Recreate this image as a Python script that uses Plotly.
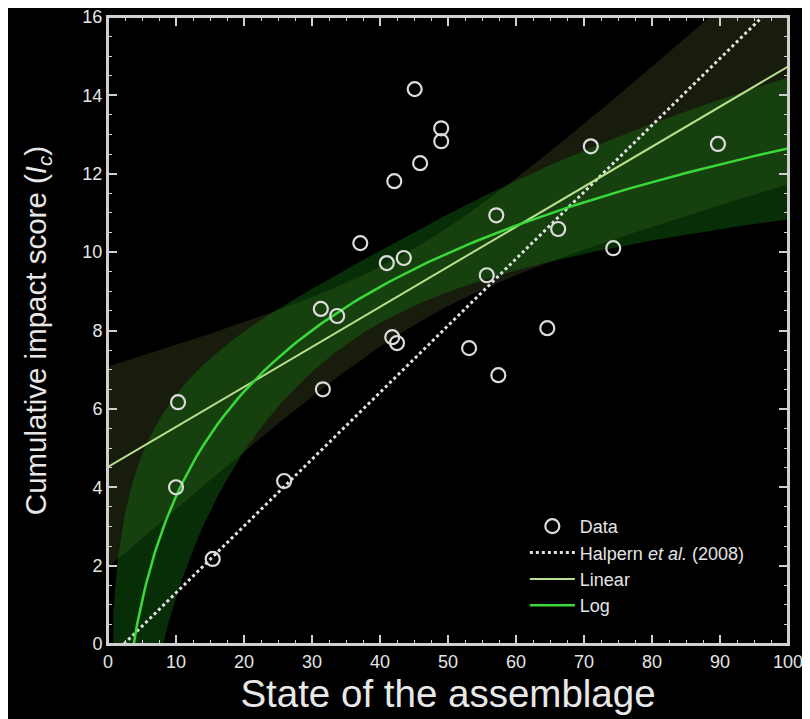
import numpy as np
import plotly.graph_objects as go

# Data
state = [10.3, 10.0, 15.4, 25.9, 31.3, 31.6, 33.7, 37.1, 41.0, 43.5, 41.8, 42.5, 42.1,
         45.1, 45.9, 49.0, 49.0, 53.1, 55.7, 57.1, 57.4, 64.6, 66.2, 71.0, 74.3, 89.7]
impact = [6.17, 4.00, 2.17, 4.16, 8.55, 6.50, 8.37, 10.23, 9.72, 9.85, 7.83, 7.68, 11.81,
          14.16, 12.27, 13.16, 12.83, 7.55, 9.41, 10.94, 6.86, 8.06, 10.59, 12.70, 10.10, 12.76]

# Halpern et al. (2008) reference line (end points)
halpern_x = [2.35, 96.2]
halpern_y = [0.0, 16.0]

x_ticks = [0, 10, 20, 30, 40, 50, 60, 70, 80, 90, 100]
y_ticks = [0, 2, 4, 6, 8, 10, 12, 14, 16]

# Regression fits (linear and log) with 95% confidence bands of the mean
xd = np.array(state)
yd = np.array(impact)
n = len(xd)
t95 = 2.064


def fit_band(u, ug):
    b, a = np.polyfit(u, yd, 1)
    res = yd - (a + b * u)
    s = np.sqrt(np.sum(res ** 2) / (n - 2))
    sxx = np.sum((u - u.mean()) ** 2)
    yh = a + b * ug
    se = s * np.sqrt(1.0 / n + (ug - u.mean()) ** 2 / sxx)
    return yh, yh - t95 * se, yh + t95 * se


grid_lin = np.linspace(0, 100, 101)
lin_fit, lin_lo, lin_hi = fit_band(xd, grid_lin)
grid_log = np.concatenate([np.linspace(0.8, 10, 47), np.linspace(11, 100, 90)])
log_fit, log_lo, log_hi = fit_band(np.log(xd), np.log(grid_log))

FONT = "Liberation Sans, Arial, sans-serif"

fig = go.Figure()

# linear band
fig.add_trace(go.Scatter(x=grid_lin, y=lin_lo, mode="lines", line=dict(width=0),
                         showlegend=False, hoverinfo="skip"))
fig.add_trace(go.Scatter(x=grid_lin, y=lin_hi, mode="lines", line=dict(width=0),
                         fill="tonexty", fillcolor="rgba(115,140,60,0.20)",
                         showlegend=False, hoverinfo="skip"))
# log band
fig.add_trace(go.Scatter(x=grid_log, y=log_lo, mode="lines", line=dict(width=0),
                         showlegend=False, hoverinfo="skip"))
fig.add_trace(go.Scatter(x=grid_log, y=log_hi, mode="lines", line=dict(width=0),
                         fill="tonexty", fillcolor="rgba(25,140,20,0.33)",
                         showlegend=False, hoverinfo="skip"))

fig.add_trace(go.Scatter(x=halpern_x, y=halpern_y, mode="lines",
                         name="Halpern <i>et al.</i> (2008)",
                         line=dict(color="#e2e2e2", width=3, dash="3px,3px"),
                         legendrank=2, legendgroup="b"))
fig.add_trace(go.Scatter(x=grid_lin, y=lin_fit, mode="lines", name="Linear",
                         line=dict(color="#b9df8c", width=2),
                         legendrank=3, legendgroup="c"))
fig.add_trace(go.Scatter(x=grid_log, y=log_fit, mode="lines", name="Log",
                         line=dict(color="#3ad93a", width=2.5),
                         legendrank=4, legendgroup="d"))
fig.add_trace(go.Scatter(x=state, y=impact, mode="markers", name="Data",
                         marker=dict(symbol="circle-open", size=14,
                                     color="#dcdcdc", line=dict(width=2.2, color="#dcdcdc")),
                         legendrank=1, legendgroup="a"))

axis_common = dict(
    showgrid=False, zeroline=False, showline=True, linecolor="#cfcfcf", linewidth=2,
    mirror="allticks", ticks="inside", ticklen=9, tickwidth=1.5, tickcolor="#cfcfcf",
    tickfont=dict(family=FONT, size=18, color="#e4e4e4"), automargin=False,
    ticklabeloverflow="allow", layer="above traces",
)

fig.update_xaxes(range=[0, 100], tickvals=x_ticks,
                 minor=dict(dtick=2.5, ticks="inside", ticklen=4, tickcolor="#cfcfcf", tickwidth=1),
                 title=dict(text="State of the assemblage", standoff=2,
                            font=dict(family=FONT, size=38.5, color="#e8e8e8")),
                 **axis_common)
fig.update_yaxes(range=[0, 16], tickvals=y_ticks,
                 minor=dict(dtick=0.5, ticks="inside", ticklen=4, tickcolor="#cfcfcf", tickwidth=1),
                 title=dict(text="Cumulative impact score (<i>I<sub>c</sub></i>)", standoff=27,
                            font=dict(family=FONT, size=29.5, color="#e8e8e8")),
                 **axis_common)

# frame around the plotting area
fig.add_shape(type="rect", xref="paper", yref="paper", x0=0, x1=1, y0=0, y1=1,
              line=dict(color="#cfcfcf", width=2), layer="above")

# page body has an 8px margin, so the figure is offset by 8px right and down
fig.update_layout(
    width=802, height=711,
    margin=dict(l=100, r=22, t=9, b=75),
    paper_bgcolor="black", plot_bgcolor="black",
    font=dict(family=FONT, color="#e4e4e4"),
    legend=dict(x=0.613, y=0.217, xanchor="left", yanchor="top",
                bgcolor="rgba(0,0,0,0)", font=dict(size=18, color="#e4e4e4"),
                itemwidth=45, traceorder="grouped", tracegroupgap=0),
)

fig.write_html("out.html")
